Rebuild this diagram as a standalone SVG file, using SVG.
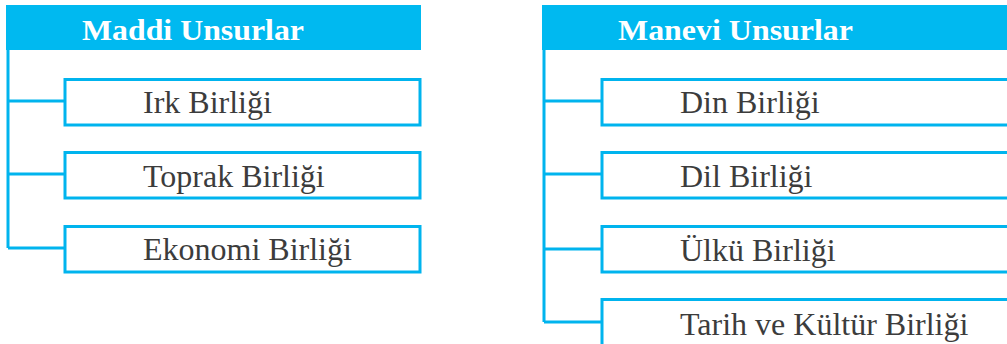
<svg xmlns="http://www.w3.org/2000/svg" width="1007" height="344" viewBox="0 0 1007 344">
<style>
.hdr{fill:#00B9F0}
.box{fill:#fff;stroke:#00B4EE;stroke-width:3}
.ln{fill:none;stroke:#00B4EE;stroke-width:3}
.ht{font-family:"Liberation Serif",serif;font-weight:bold;font-size:29px;fill:#fff}
.t{font-family:"Liberation Serif",serif;font-size:32px;fill:#3c3c3c}
</style>
<rect width="1007" height="344" fill="#fff"/>
<g id="connectors">
<path class="ln" d="M8,50 V248 M8,101 H65 M8,174 H65 M8,248 H65"/>
<path class="ln" d="M544,50 V322 M544,101 H602 M544,174 H602 M544,249 H602 M544,322 H602"/>
</g>
<g id="maddi"><rect class="hdr" x="6" y="5" width="415" height="45"/><text class="ht" x="82" y="40" textLength="222" lengthAdjust="spacingAndGlyphs">Maddi Unsurlar</text></g>
<g id="irk"><rect class="box" x="65" y="79.5" width="355" height="45.5"/><text class="t" x="143" y="113">Irk Birliği</text></g>
<g id="toprak"><rect class="box" x="65" y="152.5" width="355" height="45.5"/><text class="t" x="143" y="187">Toprak Birliği</text></g>
<g id="ekonomi"><rect class="box" x="65" y="226.5" width="355" height="45.5"/><text class="t" x="143" y="260">Ekonomi Birliği</text></g>
<g id="manevi"><rect class="hdr" x="542" y="5" width="470" height="45"/><text class="ht" x="618" y="40" textLength="235" lengthAdjust="spacingAndGlyphs">Manevi Unsurlar</text></g>
<g id="din"><rect class="box" x="602" y="79.5" width="420" height="45.5"/><text class="t" x="680" y="113">Din Birliği</text></g>
<g id="dil"><rect class="box" x="602" y="152.5" width="420" height="45.5"/><text class="t" x="680" y="187">Dil Birliği</text></g>
<g id="ulku"><rect class="box" x="602" y="226.5" width="420" height="45.5"/><text class="t" x="680" y="261">Ülkü Birliği</text></g>
<g id="tarih"><rect class="box" x="602" y="299.5" width="420" height="60"/><text class="t" x="680" y="335">Tarih ve Kültür Birliği</text></g>
</svg>
